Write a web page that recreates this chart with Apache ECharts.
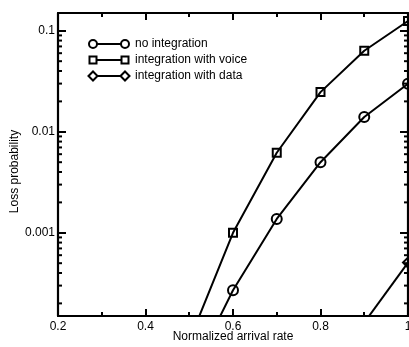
<!DOCTYPE html>
<html>
<head>
<meta charset="utf-8">
<script src="https://cdn.jsdelivr.net/npm/echarts@6/dist/echarts.min.js"></script>
<style>
  html, body { margin: 0; background: #fff; }
  #chart { width: 409px; height: 347px; }
</style>
</head>
<body>
<div id="chart"></div>
<script>
// values
const arrivalRates = [0.5, 0.6, 0.7, 0.8, 0.9, 1.0];
const noIntegration = [3.6e-5, 2.7e-4, 1.37e-3, 5.0e-3, 0.0140, 0.0299];
const withVoice = [8.5e-5, 1.0e-3, 6.2e-3, 0.0247, 0.0635, 0.125];
const dataRates = [0.9, 1.0];
const withData = [1.29e-4, 5.07e-4];
const seriesNames = ['no integration', 'integration with voice', 'integration with data'];
const yMinorTicks = [
  2e-4, 3e-4, 4e-4, 5e-4, 6e-4, 7e-4, 8e-4, 9e-4,
  2e-3, 3e-3, 4e-3, 5e-3, 6e-3, 7e-3, 8e-3, 9e-3,
  2e-2, 3e-2, 4e-2, 5e-2, 6e-2, 7e-2, 8e-2, 9e-2
];

const FONT = 'Liberation Sans, Arial, Helvetica, sans-serif';
const BLACK = '#000';

// legend icons: symbol - line - symbol, 42 x 10
const legendIcons = [
  'path://M1 5A4 4 0 1 1 9 5A4 4 0 1 1 1 5ZM9 5L33 5M33 5A4 4 0 1 1 41 5A4 4 0 1 1 33 5ZM0 0L0 0M42 10L42 10',
  'path://M1.5 1.5L8.5 1.5L8.5 8.5L1.5 8.5ZM8.5 5L33.5 5M33.5 1.5L40.5 1.5L40.5 8.5L33.5 8.5ZM0 0L0 0M42 10L42 10',
  'path://M0.5 5L5 0.5L9.5 5L5 9.5ZM9.5 5L32.5 5M32.5 5L37 0.5L41.5 5L37 9.5ZM0 0L0 0M42 10L42 10'
];

const logLabel = v => {
  const l = Math.log10(v);
  return Math.abs(l - Math.round(l)) < 1e-6 ? String(+v.toPrecision(1)) : '';
};

const chart = echarts.init(document.getElementById('chart'));

const lineSeries = (name, xs, ys, symbol, size) => ({
  name,
  type: 'line',
  data: xs.map((x, i) => [x, ys[i]]),
  symbol,
  symbolSize: size,
  clip: true,
  lineStyle: { color: BLACK, width: 2 },
  itemStyle: { color: 'transparent', borderColor: BLACK, borderWidth: 2 },
  emphasis: { disabled: true },
  z: 3
});

const xAxisBase = {
  type: 'value',
  min: 0.2,
  max: 1,
  interval: 0.2,
  axisLine: { show: true, onZero: false, lineStyle: { color: BLACK, width: 2.2 } },
  axisTick: { show: true, inside: true, length: 7, lineStyle: { color: BLACK, width: 2 } },
  minorTick: { show: true, splitNumber: 2, length: 4, lineStyle: { color: BLACK, width: 2 } },
  splitLine: { show: false },
  minorSplitLine: { show: false }
};

const yAxisBase = {
  type: 'log',
  logBase: 10,
  min: 1.5e-4,
  max: 0.15,
  axisLine: { show: true, onZero: false, lineStyle: { color: BLACK, width: 2.2 } },
  axisTick: { show: true, inside: true, length: 8, lineStyle: { color: BLACK, width: 2 } },
  splitLine: { show: false }
};

chart.setOption({
  animation: false,
  backgroundColor: '#fff',
  textStyle: { fontFamily: FONT },
  grid: { left: 58, right: 1, top: 13, bottom: 31, outerBoundsMode: 'none', containLabel: false },
  legend: {
    orient: 'vertical',
    left: 82,
    top: 33,
    itemWidth: 42,
    itemHeight: 10,
    itemGap: 4,
    selectedMode: false,
    symbolKeepAspect: true,
    itemStyle: { color: 'transparent', borderColor: BLACK, borderWidth: 2 },
    textStyle: { color: BLACK, fontSize: 12, fontFamily: FONT },
    data: seriesNames.map((name, i) => ({ name, icon: legendIcons[i] }))
  },
  xAxis: [
    Object.assign({}, xAxisBase, {
      position: 'bottom',
      name: 'Normalized arrival rate',
      nameLocation: 'middle',
      nameGap: 15,
      nameMoveOverlap: false,
      nameTextStyle: { color: BLACK, fontSize: 12, fontFamily: FONT },
      axisLabel: { color: BLACK, fontSize: 12, fontFamily: FONT, margin: 5 }
    }),
    Object.assign({}, xAxisBase, {
      position: 'top',
      axisLabel: { show: false }
    })
  ],
  yAxis: [
    Object.assign({}, yAxisBase, {
      position: 'left',
      name: 'Loss probability',
      nameLocation: 'middle',
      nameGap: 37,
      nameMoveOverlap: false,
      nameTextStyle: { color: BLACK, fontSize: 12, fontFamily: FONT, padding: [0, 14, 0, 0] },
      axisLabel: { color: BLACK, fontSize: 12, fontFamily: FONT, margin: 3, formatter: logLabel }
    }),
    Object.assign({}, yAxisBase, {
      position: 'right',
      axisLabel: { show: false }
    })
  ],
  series: [
    lineSeries(seriesNames[0], arrivalRates, noIntegration, 'circle', 10),
    lineSeries(seriesNames[1], arrivalRates, withVoice, 'rect', 8),
    lineSeries(seriesNames[2], dataRates, withData, 'diamond', 10),
    {
      name: 'minor ticks',
      type: 'custom',
      silent: true,
      clip: false,
      data: yMinorTicks.map(v => [0.2, v]),
      encode: { x: 0, y: 1 },
      renderItem: (params, api) => {
        const cs = params.coordSys;
        const y = api.coord([api.value(0), api.value(1)])[1];
        const style = { stroke: BLACK, lineWidth: 2 };
        return {
          type: 'group',
          children: [
            { type: 'line', shape: { x1: cs.x, y1: y, x2: cs.x + 4, y2: y }, style },
            { type: 'line', shape: { x1: cs.x + cs.width - 4, y1: y, x2: cs.x + cs.width, y2: y }, style }
          ]
        };
      }
    }
  ]
});
</script>
</body>
</html>
